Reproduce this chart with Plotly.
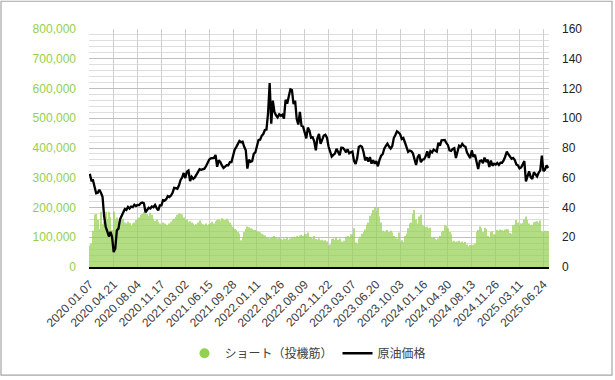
import pandas as pd
import plotly.graph_objects as go

# ---- data -------------------------------------------------------------
START_DATE = "2020-01-07"  # weekly (Tuesday) observations

TICK_LABELS = [
    "2020.01.07", "2020.04.21", "2020.08.04", "2020.11.17", "2021.03.02",
    "2021.06.15", "2021.09.28", "2022.01.11", "2022.04.26", "2022.08.09",
    "2022.11.22", "2023.03.07", "2023.06.20", "2023.10.03", "2024.01.16",
    "2024.04.30", "2024.08.13", "2024.11.26", "2025.03.11", "2025.06.24",
]

# Speculators' short positions (thousand contracts), by year
SHORT_2020 = [72, 78, 122, 176, 178, 158, 128, 186, 145, 152,
              186, 162, 186, 168, 124, 186, 160, 166, 152, 160,
              158, 162, 150, 146, 152, 148, 138, 146, 150, 158,
              162, 166, 175, 178, 185, 182, 178, 172, 182, 176,
              162, 155, 160, 152, 146, 140, 150, 146, 142, 140,
              146, 152]
SHORT_2021 = [158, 162, 168, 176, 180, 178, 176, 166, 158, 160,
              152, 154, 150, 146, 140, 144, 150, 156, 148, 144,
              142, 146, 140, 144, 148, 152, 146, 154, 158, 160,
              156, 164, 160, 158, 162, 156, 150, 142, 135, 128,
              124, 118, 112, 90, 100, 118, 128, 136, 134, 130,
              128, 124]
SHORT_2022 = [124, 120, 118, 116, 112, 108, 106, 100, 98, 96,
              98, 102, 104, 100, 96, 98, 94, 92, 96, 94,
              98, 92, 96, 100, 102, 98, 104, 100, 106, 108,
              104, 112, 110, 116, 102, 100, 96, 104, 94, 92,
              96, 90, 92, 88, 90, 86, 72, 76, 94, 96,
              92, 98]
SHORT_2023 = [92, 96, 86, 84, 88, 102, 104, 100, 110, 108,
              130, 82, 78, 96, 102, 112, 118, 126, 142, 150,
              172, 180, 192, 200, 188, 198, 170, 150, 122, 118,
              120, 124, 118, 122, 116, 104, 100, 96, 116, 86,
              90, 84, 104, 112, 130, 146, 150, 178, 192, 160,
              146, 170]
SHORT_2024 = [176, 142, 138, 134, 136, 130, 132, 98, 100, 94,
              92, 96, 104, 118, 122, 140, 138, 130, 118, 110,
              86, 88, 84, 86, 88, 82, 86, 80, 84, 76,
              70, 74, 72, 75, 78, 118, 124, 136, 130, 118,
              132, 128, 104, 100, 118, 120, 110, 108, 124, 122,
              126, 124, 122]
SHORT_2025 = [126, 128, 126, 114, 112, 140, 142, 158, 150, 140,
              146, 148, 160, 170, 158, 146, 140, 142, 150, 152,
              154, 150, 156, 120, 118, 122, 120, 120]

# Crude oil price (USD/bbl), by year
PRICE_2020 = [62.7, 58.2, 58.3, 53.5, 49.6, 49.9, 52.0, 49.9, 47.2, 34.4,
              26.9, 24.0, 20.5, 23.6, 20.1, 10.0, 12.3, 24.6, 25.8, 32.0,
              34.4, 36.8, 38.9, 38.4, 40.4, 39.3, 40.6, 40.3, 41.9, 41.0,
              41.7, 41.6, 42.9, 43.4, 42.8, 36.8, 38.3, 39.8, 39.3, 40.7,
              40.2, 41.7, 39.6, 38.0, 41.4, 41.4, 44.9, 44.6, 45.6, 47.6,
              47.0, 48.0]
PRICE_2021 = [49.9, 53.2, 53.0, 52.6, 54.8, 58.4, 60.1, 63.2, 59.8, 64.0,
              64.8, 57.8, 60.6, 59.3, 60.2, 62.4, 63.9, 65.7, 65.3, 65.5,
              66.1, 67.7, 70.1, 72.1, 73.1, 73.0, 73.4, 75.3, 67.4, 71.7,
              70.6, 68.3, 66.6, 67.5, 68.5, 68.4, 70.5, 70.5, 75.3, 78.9,
              80.6, 83.0, 84.7, 83.9, 84.2, 80.8, 78.5, 66.2, 72.1, 70.7,
              71.1, 76.0]
PRICE_2022 = [77.0, 81.2, 85.4, 85.6, 88.2, 89.4, 92.1, 92.4, 103.4, 123.7,
              96.4, 111.8, 104.2, 102.0, 100.6, 102.6, 101.7, 102.4, 99.8, 112.4,
              109.8, 114.7, 119.4, 118.9, 109.5, 111.8, 99.5, 95.8, 104.2, 95.0,
              94.4, 90.5, 86.5, 93.7, 91.6, 86.9, 87.3, 84.5, 78.5, 86.5,
              89.4, 82.8, 85.3, 88.4, 88.9, 86.9, 81.0, 78.2, 74.3, 75.4,
              76.2, 79.5]
PRICE_2023 = [76.9, 75.1, 80.2, 80.1, 78.9, 77.1, 79.1, 76.4, 77.1, 77.6,
              71.3, 69.3, 73.2, 80.7, 81.5, 80.9, 77.1, 71.7, 73.7, 70.9,
              73.9, 69.5, 71.7, 69.4, 71.2, 67.7, 71.8, 74.8, 75.8, 79.6,
              81.4, 82.9, 81.0, 79.6, 81.2, 86.7, 88.8, 91.2, 90.4, 89.2,
              86.0, 86.7, 83.7, 81.0, 77.4, 78.3, 77.8, 76.4, 72.3, 68.6,
              73.9, 75.6]
PRICE_2024 = [70.4, 72.2, 72.4, 74.4, 77.8, 73.3, 77.9, 77.0, 78.9, 78.2,
              77.6, 83.5, 81.6, 85.2, 85.2, 85.4, 83.4, 81.9, 78.4, 78.0,
              79.3, 79.8, 73.3, 78.0, 81.6, 80.8, 82.8, 81.4, 80.8, 77.0,
              74.7, 73.2, 78.4, 74.0, 75.5, 70.3, 65.8, 71.2, 71.6, 69.8,
              73.6, 70.6, 72.1, 67.2, 71.5, 68.1, 69.4, 68.8, 69.9, 68.6,
              70.1, 70.1, 71.7]
PRICE_2025 = [74.3, 77.5, 75.8, 73.8, 72.7, 73.3, 71.9, 68.9, 68.3, 66.3,
              66.9, 69.0, 71.2, 57.6, 61.3, 64.3, 60.4, 59.1, 63.7, 62.6,
              60.9, 63.4, 65.0, 74.8, 64.4, 65.5, 68.3, 66.5]

SHORT_NAME = "ショート（投機筋）"
PRICE_NAME = "原油価格"

# ---- assemble ---------------------------------------------------------
shorts_k = SHORT_2020 + SHORT_2021 + SHORT_2022 + SHORT_2023 + SHORT_2024 + SHORT_2025
price = PRICE_2020 + PRICE_2021 + PRICE_2022 + PRICE_2023 + PRICE_2024 + PRICE_2025
n = min(len(shorts_k), len(price))
shorts = [v * 1000 for v in shorts_k[:n]]
price = price[:n]
dates = list(pd.date_range(START_DATE, periods=n, freq="7D").strftime("%Y.%m.%d"))

GREEN = "#92D050"
FONT = "Liberation Sans, Arial, Noto Sans CJK JP, sans-serif"

W, H = 615, 380
L, R, T, B = 89, 66, 29, 111
PW, PH = W - L - R, H - T - B

fig = go.Figure()
fig.add_trace(go.Bar(
    x=dates, y=shorts, name=SHORT_NAME, showlegend=False,
    marker=dict(color=GREEN, line=dict(width=0)), opacity=0.7,
    yaxis="y",
))
# legend-only entry with a round marker
fig.add_trace(go.Scatter(
    x=[None], y=[None], mode="markers", name=SHORT_NAME,
    marker=dict(symbol="circle", size=10, color=GREEN),
))
fig.add_trace(go.Scatter(
    x=dates, y=price, name=PRICE_NAME, mode="lines",
    line=dict(color="black", width=2.3), yaxis="y2",
))

fig.update_layout(
    width=W, height=H,
    margin=dict(l=L, r=R, t=T, b=B),
    paper_bgcolor="white", plot_bgcolor="white",
    font=dict(family=FONT, size=12, color="#404040"),
    bargap=0.35,
    showlegend=True,
    legend=dict(orientation="h", x=(308 - L) / PW, xanchor="center",
                y=(T + PH - 356) / PH, yanchor="middle",
                font=dict(size=12, color="#404040"),
                itemwidth=30, tracegroupgap=0),
    xaxis=dict(
        type="category", tickmode="array", tickvals=TICK_LABELS, ticktext=TICK_LABELS,
        tickangle=-45, showgrid=True, gridcolor="#cfcfcf", gridwidth=1,
        showline=True, linecolor="black", linewidth=1.5, ticks="",
        tickfont=dict(size=12, color="#404040"), automargin=False,
        ticklabelstandoff=4,
        range=[-0.5, n - 0.5],
    ),
    yaxis=dict(
        range=[0, 800000], dtick=100000, tickformat=",", showgrid=True,
        gridcolor="#bfbfbf", gridwidth=1, zeroline=False,
        minor=dict(dtick=20000, showgrid=True, gridcolor="#dedede", gridwidth=1),
        tickfont=dict(size=12, color=GREEN), ticklabelstandoff=12,
        automargin=False, fixedrange=True,
    ),
    yaxis2=dict(
        range=[0, 160], dtick=20, overlaying="y", side="right", showgrid=False,
        zeroline=False, tickfont=dict(size=12, color="#222222"),
        ticklabelstandoff=12, automargin=False,
    ),
    shapes=[dict(
        type="rect", xref="paper", yref="paper",
        x0=(1 - L) / PW, x1=(612 - L) / PW,
        y0=(T + PH - 378) / PH, y1=(T + PH - 1) / PH,
        line=dict(color="#a6a6a6", width=1.2), fillcolor="rgba(0,0,0,0)",
        layer="below",
    )],
)

fig.write_html(
    "out.html",
    config={"displayModeBar": False},
    post_script="document.body.style.margin='0';document.body.style.overflow='hidden';",
)
